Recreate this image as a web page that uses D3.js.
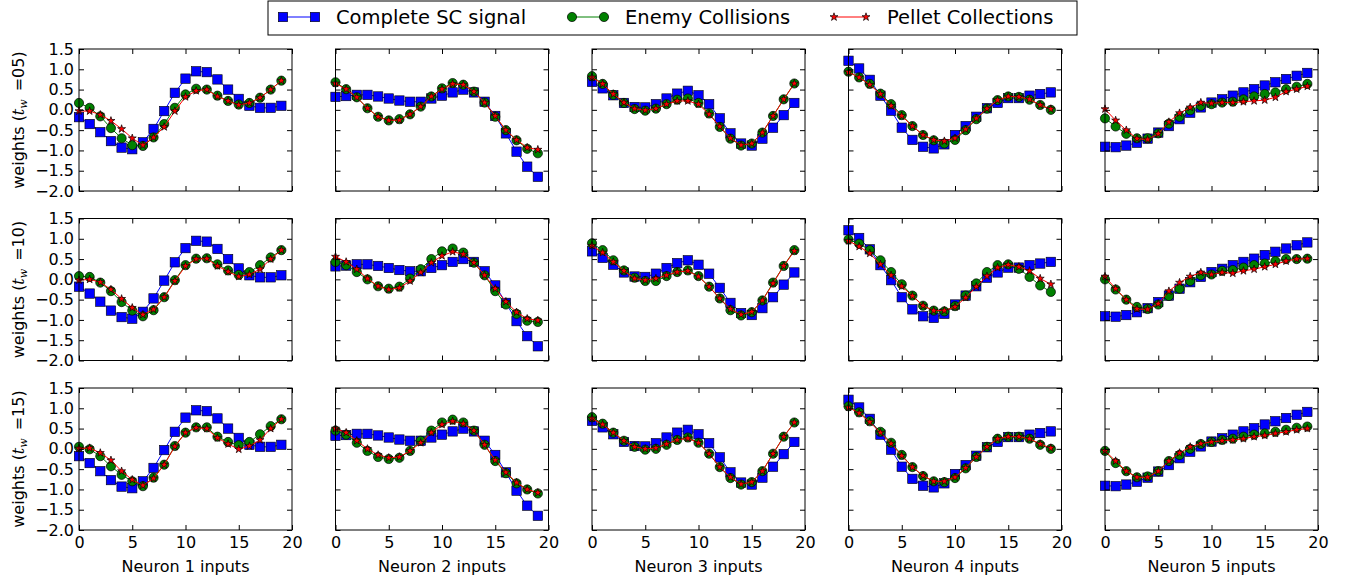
<!DOCTYPE html>
<html><head><meta charset="utf-8">
<script src="https://cdn.jsdelivr.net/npm/d3@7"></script>
<style>body{margin:0;background:#fff} svg{display:block} text{font-family:"DejaVu Sans",sans-serif;fill:#000}</style>
</head><body><svg id="c" width="1351" height="580"></svg>
<script>
const xTicks=[0,5,10,15,20];
const yTicks=[-2.0,-1.5,-1.0,-0.5,0.0,0.5,1.0,1.5];
const neuronLabels=["Neuron 1 inputs","Neuron 2 inputs","Neuron 3 inputs","Neuron 4 inputs","Neuron 5 inputs"];
const rowTw=["05","10","15"];
const seriesNames=["Complete SC signal","Enemy Collisions","Pellet Collections"];
const seriesColors=["#0000ff","#008000","#ff0000"];
const seriesMarkers=["square","circle","star"];

// Complete SC signal (same in every row), one array per neuron
const scSignal=[
 [-0.18,-0.35,-0.55,-0.77,-0.93,-0.97,-0.80,-0.47,-0.03,0.42,0.77,0.95,0.93,0.75,0.50,0.27,0.10,0.05,0.05,0.10],
 [0.32,0.34,0.37,0.37,0.33,0.28,0.23,0.20,0.20,0.28,0.35,0.43,0.50,0.43,0.20,-0.15,-0.58,-1.03,-1.40,-1.65],
 [0.69,0.53,0.36,0.17,0.07,0.06,0.14,0.28,0.40,0.47,0.36,0.14,-0.21,-0.58,-0.83,-0.88,-0.71,-0.44,-0.13,0.17],
 [1.21,1.02,0.74,0.35,-0.02,-0.44,-0.74,-0.91,-0.95,-0.85,-0.62,-0.40,-0.17,0.04,0.17,0.29,0.29,0.35,0.39,0.43],
 [-0.91,-0.92,-0.88,-0.81,-0.71,-0.56,-0.40,-0.23,-0.07,0.06,0.18,0.26,0.35,0.43,0.51,0.60,0.68,0.76,0.84,0.91]
];
// Enemy Collisions
const enemyTw05=[
 [0.17,0.05,-0.16,-0.45,-0.70,-0.87,-0.89,-0.68,-0.35,0.05,0.38,0.52,0.50,0.35,0.22,0.13,0.17,0.30,0.50,0.72],
 [0.68,0.51,0.31,0.04,-0.17,-0.26,-0.23,-0.11,0.08,0.33,0.53,0.66,0.62,0.45,0.18,-0.17,-0.50,-0.75,-0.96,-1.07],
 [0.83,0.64,0.37,0.17,0.02,-0.02,0.03,0.14,0.25,0.28,0.17,-0.09,-0.42,-0.71,-0.88,-0.83,-0.56,-0.15,0.26,0.65],
 [0.94,0.80,0.64,0.40,0.14,-0.13,-0.40,-0.62,-0.75,-0.83,-0.74,-0.50,-0.23,0.03,0.24,0.33,0.32,0.25,0.12,0.00],
 [-0.21,-0.41,-0.59,-0.70,-0.70,-0.58,-0.34,-0.17,-0.01,0.10,0.14,0.18,0.20,0.26,0.33,0.39,0.43,0.51,0.57,0.64]
];
const enemyTw10=[
 [0.08,0.06,-0.08,-0.29,-0.56,-0.77,-0.91,-0.76,-0.44,-0.02,0.35,0.51,0.52,0.37,0.22,0.11,0.18,0.35,0.54,0.72],
 [0.43,0.35,0.18,0.00,-0.17,-0.23,-0.18,0.02,0.25,0.50,0.69,0.76,0.66,0.41,0.10,-0.29,-0.62,-0.85,-1.02,-1.05],
 [0.89,0.72,0.47,0.22,0.04,-0.04,-0.04,0.08,0.18,0.22,0.08,-0.18,-0.47,-0.76,-0.89,-0.81,-0.52,-0.08,0.33,0.72],
 [0.98,0.88,0.72,0.47,0.18,-0.12,-0.40,-0.65,-0.77,-0.79,-0.66,-0.40,-0.10,0.18,0.35,0.37,0.26,0.06,-0.15,-0.31],
 [0.00,-0.25,-0.50,-0.68,-0.73,-0.62,-0.41,-0.23,-0.04,0.10,0.12,0.21,0.23,0.29,0.35,0.39,0.45,0.50,0.50,0.51]
];
const enemyTw15=[
 [0.05,-0.01,-0.18,-0.43,-0.64,-0.80,-0.92,-0.71,-0.39,0.07,0.40,0.53,0.53,0.30,0.17,0.09,0.17,0.36,0.56,0.73],
 [0.45,0.35,0.15,-0.05,-0.20,-0.25,-0.22,-0.05,0.20,0.45,0.65,0.72,0.65,0.45,0.10,-0.30,-0.60,-0.85,-1.00,-1.10],
 [0.78,0.62,0.40,0.20,0.05,-0.02,0.00,0.10,0.22,0.28,0.15,-0.12,-0.45,-0.72,-0.88,-0.82,-0.55,-0.12,0.30,0.65],
 [1.05,0.90,0.68,0.42,0.15,-0.15,-0.45,-0.67,-0.80,-0.82,-0.72,-0.48,-0.20,0.05,0.25,0.30,0.30,0.25,0.10,0.00],
 [-0.05,-0.35,-0.55,-0.70,-0.68,-0.55,-0.30,-0.15,0.00,0.12,0.17,0.22,0.25,0.30,0.35,0.38,0.42,0.47,0.52,0.55]
];
// Pellet Collections
const pelletTw05=[
 [-0.03,-0.03,-0.12,-0.27,-0.47,-0.70,-0.87,-0.68,-0.42,-0.03,0.32,0.47,0.50,0.33,0.22,0.12,0.17,0.30,0.50,0.72],
 [0.65,0.51,0.31,0.04,-0.17,-0.26,-0.25,-0.11,0.08,0.33,0.51,0.64,0.62,0.45,0.18,-0.15,-0.50,-0.74,-0.93,-0.98],
 [0.80,0.64,0.39,0.18,0.03,-0.01,0.03,0.14,0.22,0.22,0.14,-0.11,-0.41,-0.70,-0.87,-0.83,-0.56,-0.15,0.26,0.65],
 [0.93,0.80,0.62,0.39,0.10,-0.15,-0.40,-0.62,-0.74,-0.77,-0.70,-0.48,-0.21,0.03,0.24,0.33,0.32,0.26,0.12,0.02],
 [0.02,-0.26,-0.50,-0.71,-0.73,-0.59,-0.30,-0.08,0.06,0.18,0.16,0.18,0.18,0.20,0.22,0.24,0.31,0.45,0.51,0.58]
];
const pelletTw10=[
 [-0.02,0.00,-0.07,-0.25,-0.48,-0.70,-0.87,-0.74,-0.44,-0.04,0.33,0.50,0.51,0.33,0.19,0.07,0.12,0.25,0.50,0.72],
 [0.56,0.43,0.25,0.02,-0.17,-0.25,-0.21,-0.04,0.17,0.41,0.58,0.68,0.62,0.41,0.10,-0.23,-0.55,-0.81,-0.97,-1.01],
 [0.83,0.66,0.43,0.21,0.02,-0.02,0.02,0.10,0.18,0.21,0.07,-0.18,-0.47,-0.73,-0.87,-0.80,-0.52,-0.10,0.33,0.70],
 [0.95,0.81,0.64,0.37,0.10,-0.17,-0.41,-0.65,-0.77,-0.77,-0.68,-0.45,-0.18,0.08,0.29,0.36,0.31,0.21,0.02,-0.12],
 [0.07,-0.23,-0.50,-0.73,-0.74,-0.60,-0.29,-0.08,0.07,0.17,0.12,0.17,0.15,0.21,0.25,0.31,0.37,0.45,0.50,0.51]
];
const pelletTw15=[
 [0.01,0.02,-0.10,-0.28,-0.55,-0.76,-0.90,-0.73,-0.39,0.06,0.40,0.52,0.50,0.27,0.12,-0.01,0.07,0.22,0.50,0.73],
 [0.50,0.40,0.20,0.00,-0.15,-0.22,-0.20,-0.05,0.15,0.40,0.60,0.68,0.62,0.45,0.10,-0.28,-0.58,-0.83,-1.00,-1.08],
 [0.75,0.60,0.40,0.20,0.05,0.00,0.02,0.12,0.22,0.26,0.15,-0.12,-0.45,-0.70,-0.87,-0.82,-0.55,-0.12,0.30,0.65],
 [1.02,0.88,0.66,0.40,0.13,-0.17,-0.45,-0.66,-0.80,-0.80,-0.70,-0.47,-0.20,0.05,0.25,0.30,0.30,0.25,0.12,0.02],
 [-0.05,-0.30,-0.55,-0.70,-0.70,-0.55,-0.30,-0.10,0.05,0.13,0.17,0.20,0.22,0.25,0.30,0.33,0.38,0.42,0.47,0.50]
];

const enemyRows=[enemyTw05,enemyTw10,enemyTw15];
const pelletRows=[pelletTw05,pelletTw10,pelletTw15];

const svg=d3.select("#c");
const FONT=16;
const colLeft=i=>79+i*256.5, panelW=213;
const rowTop=j=>49+j*169.5, panelH=142;

function starPath(r){
  const p=[];
  for(let i=0;i<10;i++){
    const rr=i%2?r*0.382:r, a=-Math.PI/2+i*Math.PI/5;
    p.push([rr*Math.cos(a),rr*Math.sin(a)]);
  }
  return "M"+p.map(d=>d[0].toFixed(2)+","+d[1].toFixed(2)).join("L")+"Z";
}
function drawMarker(g,type,color,x,y){
  if(type==="square"){
    g.append("rect").attr("x",x-4.7).attr("y",y-4.7).attr("width",9.4).attr("height",9.4)
     .attr("fill",color).attr("stroke","#000").attr("stroke-width",0.6);
  } else if(type==="circle"){
    g.append("circle").attr("cx",x).attr("cy",y).attr("r",4.6)
     .attr("fill",color).attr("stroke","#000").attr("stroke-width",0.7);
  } else {
    g.append("path").attr("d",starPath(4.2)).attr("transform",`translate(${x},${y})`)
     .attr("fill",color).attr("stroke","#000").attr("stroke-width",0.7);
  }
}

for(let r=0;r<3;r++){
  for(let c=0;c<5;c++){
    const L=colLeft(c), T=rowTop(r);
    const x=d3.scaleLinear().domain([0,20]).range([L,L+panelW]);
    const y=d3.scaleLinear().domain([-2,1.5]).range([T+panelH,T]);
    const g=svg.append("g");
    const series=[scSignal[c],enemyRows[r][c],pelletRows[r][c]];
    series.forEach((vals,s)=>{
      const line=d3.line().x((d,i)=>x(i)).y(d=>y(d));
      g.append("path").attr("d",line(vals)).attr("fill","none")
       .attr("stroke",seriesColors[s]).attr("stroke-width",1);
      vals.forEach((v,i)=>drawMarker(g,seriesMarkers[s],seriesColors[s],x(i),y(v)));
    });
    // axes
    const bottom=d3.axisBottom(x).tickValues(xTicks).tickSizeInner(-5).tickSizeOuter(0).tickPadding(7)
      .tickFormat(r===2?d3.format("d"):()=> "");
    const top=d3.axisTop(x).tickValues(xTicks).tickSizeInner(-5).tickSizeOuter(0).tickFormat(()=> "");
    const left=d3.axisLeft(y).tickValues(yTicks).tickSizeInner(-5).tickSizeOuter(0).tickPadding(5)
      .tickFormat(c===0?d3.format(".1f"):()=> "");
    const right=d3.axisRight(y).tickValues(yTicks).tickSizeInner(-5).tickSizeOuter(0).tickFormat(()=> "");
    [[bottom,`translate(0,${T+panelH})`],[top,`translate(0,${T})`],[left,`translate(${L},0)`],[right,`translate(${L+panelW},0)`]]
    .forEach(([ax,tr])=>{
      const a=svg.append("g").attr("transform",tr).call(ax);
      a.select(".domain").remove();
      a.selectAll("line").attr("stroke","#000").attr("stroke-width",1);
      a.selectAll("text").attr("font-size",FONT).attr("font-family","DejaVu Sans");
    });
    svg.append("rect").attr("x",L).attr("y",T).attr("width",panelW).attr("height",panelH)
      .attr("fill","none").attr("stroke","#000").attr("stroke-width",1);
    if(r===2){
      svg.append("text").attr("x",L+panelW/2).attr("y",572).attr("text-anchor","middle")
        .attr("font-size",FONT).text(neuronLabels[c]);
    }
    if(c===0){
      const t=svg.append("text").attr("transform",`translate(24,${T+panelH/2}) rotate(-90)`)
        .attr("text-anchor","middle").attr("font-size",FONT);
      t.append("tspan").text("weights (");
      t.append("tspan").attr("font-style","italic").attr("font-family","DejaVu Serif").text("t");
      t.append("tspan").attr("font-style","italic").attr("font-family","DejaVu Serif").attr("font-size",11).attr("dy",3).text("w");
      t.append("tspan").attr("dy",-3).text("\u2002=" + rowTw[r] + ")");
    }
  }
}

// legend
const lg=svg.append("g");
lg.append("rect").attr("x",268).attr("y",1).attr("width",809).attr("height",34)
  .attr("fill","#fff").attr("stroke","#000").attr("stroke-width",1);
const legX=[283,572,834];
seriesNames.forEach((name,s)=>{
  const x0=legX[s], x1=x0+32, yy=17;
  lg.append("line").attr("x1",x0).attr("x2",x1).attr("y1",yy).attr("y2",yy)
    .attr("stroke",seriesColors[s]).attr("stroke-width",1);
  drawMarker(lg,seriesMarkers[s],seriesColors[s],x0,yy);
  drawMarker(lg,seriesMarkers[s],seriesColors[s],x1,yy);
  lg.append("text").attr("x",x1+21).attr("y",yy).attr("dy","0.36em").attr("font-size",19.5).text(name);
});
</script></body></html>
